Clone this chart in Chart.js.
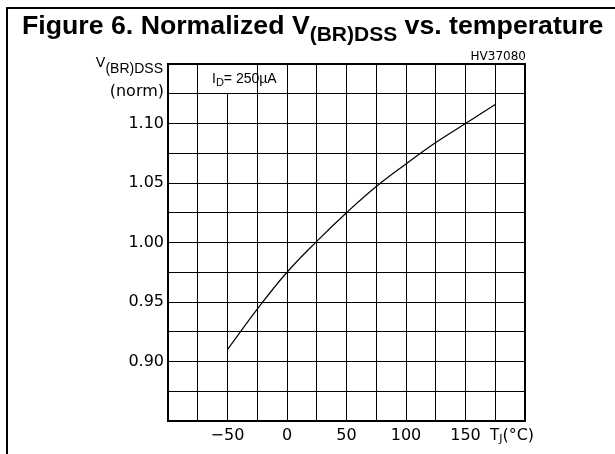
<!DOCTYPE html>
<html>
<head>
<meta charset="utf-8">
<script src="https://cdn.jsdelivr.net/npm/chart.js@4/dist/chart.umd.min.js"></script>
<style>
  html, body { margin: 0; padding: 0; background: #fff; }
  #wrap { width: 615px; height: 454px; }
</style>
</head>
<body>
<div id="wrap"><canvas id="chart" width="615" height="454"></canvas></div>
<script>
// curve: T_J (°C) -> normalized V(BR)DSS
const temps   = [-50, -25, 0, 25, 50, 75, 100, 125, 150, 175];
const vbrNorm = [0.910, 0.944, 0.975, 1.001, 1.025, 1.047, 1.066, 1.084, 1.100, 1.116];

// labelled ticks only (grid is every 25 °C / 0.025)
const xTickLabels = [-50, 0, 50, 100, 150];
const yTickLabels = [0.90, 0.95, 1.00, 1.05, 1.10];

const sans = '"Liberation Sans", Arial, sans-serif';
const geo = '"DejaVu Sans", sans-serif';

// text pieces: [text, font, dy]
function drawRuns(ctx, x, y, runs, align) {
    let total = 0;
    runs.forEach(r => { ctx.font = r[1]; total += ctx.measureText(r[0]).width; });
    let cx = align === 'right' ? x - total : x;
    ctx.textAlign = 'left';
    ctx.textBaseline = 'alphabetic';
    runs.forEach(r => {
        ctx.font = r[1];
        ctx.fillText(r[0], cx, y + (r[2] || 0));
        cx += ctx.measureText(r[0]).width;
    });
}

const decor = {
    id: 'decor',
    beforeDraw(chart) {
        const ctx = chart.ctx;
        ctx.save();
        ctx.fillStyle = '#fff';
        ctx.fillRect(0, 0, chart.width, chart.height);
        ctx.fillStyle = '#000';
        ctx.fillRect(6, 7, 2, chart.height - 7);
        ctx.fillRect(6, 7, chart.width - 6, 2);
        ctx.restore();
    },
    beforeDatasetsDraw(chart) {
        // blank cell behind the I_D note
        const ctx = chart.ctx;
        const x = chart.scales.x, y = chart.scales.y;
        const x0 = x.getPixelForValue(-75), x1 = x.getPixelForValue(-25);
        const y0 = y.getPixelForValue(1.15), y1 = y.getPixelForValue(1.125);
        ctx.save();
        ctx.fillStyle = '#fff';
        ctx.fillRect(x0 + 0.8, y0, x1 - x0 - 1.6, y1 - y0 - 0.8);
        ctx.restore();
    },
    afterDraw(chart) {
        const ctx = chart.ctx;
        const a = chart.chartArea;
        ctx.save();
        ctx.strokeStyle = '#000';
        ctx.lineWidth = 2;
        ctx.strokeRect(a.left, a.top, a.right - a.left, a.bottom - a.top);

        ctx.fillStyle = '#000';
        // title
        drawRuns(ctx, 22, 34, [
            ['Figure 6. Normalized V', 'bold 26.7px ' + sans],
            ['(BR)DSS', 'bold 21px ' + sans, 7],
            [' vs. temperature', 'bold 26.7px ' + sans]
        ]);
        // code
        drawRuns(ctx, a.right + 1, 60, [['HV37080', '12px ' + geo]], 'right');
        // y axis name
        drawRuns(ctx, a.left - 5, 67, [
            ['V', '14px ' + geo],
            ['(BR)DSS', '14px ' + sans, 6]
        ], 'right');
        drawRuns(ctx, a.left - 4, 96, [['(norm)', '16px ' + geo]], 'right');
        // I_D note
        drawRuns(ctx, 212, 83, [
            ['I', '14px ' + sans],
            ['D', '11px ' + sans, 3],
            ['= 250\u00b5A', '14px ' + sans]
        ]);
        // x axis name
        drawRuns(ctx, 490, 440, [
            ['T', '15px ' + geo],
            ['J', '11px ' + geo, 2],
            ['(\u00b0C)', '16px ' + geo]
        ]);
        ctx.restore();
    }
};

new Chart(document.getElementById('chart').getContext('2d'), {
    type: 'line',
    data: {
        datasets: [{
            data: temps.map((t, i) => ({ x: t, y: vbrNorm[i] })),
            borderColor: '#000',
            borderWidth: 1.2,
            pointRadius: 0,
            tension: 0.4,
            fill: false
        }]
    },
    options: {
        responsive: false,
        animation: false,
        devicePixelRatio: 1,
        layout: { padding: { left: 0, right: 90, top: 64, bottom: 0 } },
        plugins: { legend: { display: false }, tooltip: { enabled: false } },
        scales: {
            x: {
                type: 'linear',
                min: -100, max: 200,
                afterFit: s => { s.height = 33; },
                grid: { color: '#000', lineWidth: 1, drawTicks: false },
                border: { display: false },
                ticks: {
                    stepSize: 25,
                    autoSkip: false,
                    maxRotation: 0,
                    padding: 5,
                    color: '#000',
                    font: { family: 'DejaVu Sans', size: 16 },
                    callback: v => xTickLabels.includes(v) ? String(v).replace('-', '\u2212') : ''
                }
            },
            y: {
                type: 'linear',
                min: 0.85, max: 1.15,
                afterFit: s => { s.width = 168; },
                grid: { color: '#000', lineWidth: 1, drawTicks: false },
                border: { display: false },
                ticks: {
                    stepSize: 0.025,
                    autoSkip: false,
                    padding: 4,
                    color: '#000',
                    font: { family: 'DejaVu Sans', size: 16 },
                    callback: v => {
                        const hit = yTickLabels.find(t => Math.abs(t - v) < 1e-6);
                        return hit === undefined ? '' : hit.toFixed(2);
                    }
                }
            }
        }
    },
    plugins: [decor]
});
</script>
</body>
</html>
